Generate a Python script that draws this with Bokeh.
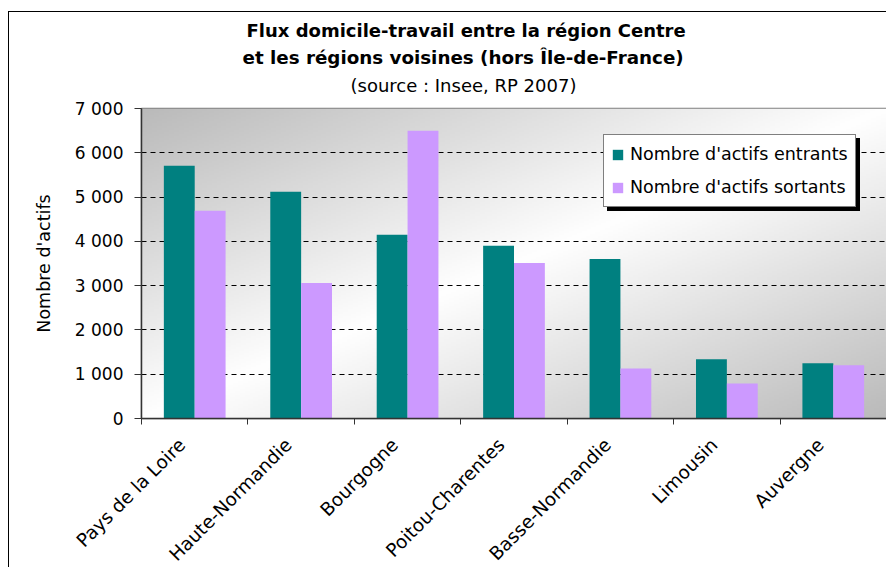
import numpy as np
from math import pi
from bokeh.plotting import figure
from bokeh.models import (ColumnDataSource, Range1d, LinearAxis,
                          FixedTicker, Legend, LegendItem, Title)
from bokeh.transform import dodge
from bokeh.embed import file_html
from bokeh.resources import INLINE

# ---- data ----
regions = ["Pays de la Loire", "Haute-Normandie", "Bourgogne", "Poitou-Charentes",
           "Basse-Normandie", "Limousin", "Auvergne"]
entrants = [5710, 5120, 4150, 3900, 3600, 1340, 1250]
sortants = [4690, 3060, 6500, 3510, 1130, 790, 1200]
y_ticks = [0, 1000, 2000, 3000, 4000, 5000, 6000, 7000]
y_tick_labels = ["0", "1 000", "2 000", "3 000", "4 000", "5 000", "6 000", "7 000"]
series_names = ["Nombre d'actifs entrants", "Nombre d'actifs sortants"]
title_lines = ["Flux domicile-travail entre la région Centre",
               "et les régions voisines (hors Île-de-France)"]
subtitle = "(source : Insee, RP 2007)"

FONT = "DejaVu Sans"
C_IN = "#008080"
C_OUT = "#CC99FF"

n = len(regions)
idx = list(range(n))
x_lo, x_hi = -0.5, n - 0.5
y_lo, y_hi = y_ticks[0], y_ticks[-1]

p = figure(frame_width=745, frame_height=310,
           x_range=Range1d(x_lo, x_hi), y_range=Range1d(y_lo, y_hi),
           output_backend="svg", toolbar_location=None, tools="",
           title=None, x_axis_location=None, y_axis_location="left",
           min_border_left=132, min_border_top=96, min_border_right=0, min_border_bottom=135)
p.margin = (11, 0, 0, 8)
p.styles = {"border-left": "1px solid black", "border-top": "1px solid black"}
p.background_fill_color = "white"
p.border_fill_color = "white"
p.outline_line_color = "#808080"
p.outline_line_width = 1.5

# ---- gradient background of the plot area ----
nx, ny = 300, 150
u = np.linspace(0, 1, nx)[None, :]
v = np.linspace(0, 1, ny)[:, None]
t = (u + (1 - v)) / 2.0
g = (255 - (255 - 186) * np.abs(2 * t - 1)).astype(np.uint8)
img = np.zeros((ny, nx), dtype=np.uint32)
view = img.view(dtype=np.uint8).reshape((ny, nx, 4))
view[..., 0] = g
view[..., 1] = g
view[..., 2] = g
view[..., 3] = 255
p.image_rgba(image=[img], x=x_lo, y=y_lo, dw=x_hi - x_lo, dh=y_hi - y_lo, level="image")

# ---- grid ----
p.xgrid.grid_line_color = None
p.ygrid.ticker = FixedTicker(ticks=y_ticks[1:-1])
p.ygrid.grid_line_color = "black"
p.ygrid.grid_line_dash = "5 4"
p.ygrid.grid_line_width = 1
p.ygrid.level = "underlay"

# ---- bars ----
src = ColumnDataSource(dict(idx=idx, region=regions, entrants=entrants, sortants=sortants))
r_in = p.vbar(x=dodge("idx", -0.145), top="entrants", width=0.29,
              source=src, fill_color=C_IN, line_color=None)
r_out = p.vbar(x=dodge("idx", 0.145), top="sortants", width=0.29,
               source=src, fill_color=C_OUT, line_color=None)

# ---- y axis ----
ya = p.yaxis[0]
ya.ticker = FixedTicker(ticks=y_ticks)
ya.major_label_overrides = dict(zip(y_ticks, y_tick_labels))
ya.major_label_text_font = FONT
ya.major_label_text_font_size = "17px"
ya.major_label_text_color = "black"
ya.major_tick_out = 7
ya.major_tick_in = 0
ya.minor_tick_line_color = None
ya.major_label_standoff = 11
ya.axis_line_color = "#333333"
ya.axis_line_width = 1.5
ya.major_tick_line_color = "#333333"
ya.axis_label = "Nombre d'actifs"
ya.axis_label_text_font = FONT
ya.axis_label_text_font_size = "17.5px"
ya.axis_label_text_font_style = "normal"
ya.axis_label_text_color = "black"
ya.axis_label_standoff = 18

# ---- x axes: boundary ticks, then category labels ----
bounds = [i - 0.5 for i in range(n + 1)]
xt = LinearAxis(ticker=FixedTicker(ticks=bounds),
                major_tick_out=6, major_tick_in=0, minor_tick_line_color=None,
                major_label_overrides={b: "" for b in bounds},
                major_label_text_font_size="0px", major_label_standoff=0,
                axis_line_color="#333333", axis_line_width=1.5, major_tick_line_color="#333333")
p.add_layout(xt, "below")
label_pos = [i - 0.12 for i in idx]   # rotated labels end a little left of the group centre
xc = LinearAxis(ticker=FixedTicker(ticks=label_pos),
                major_label_overrides=dict(zip(label_pos, regions)),
                major_tick_line_color=None, axis_line_color=None, minor_tick_line_color=None,
                major_label_orientation=pi / 4, major_label_text_font=FONT,
                major_label_text_font_size="18.5px", major_label_text_color="black",
                major_label_standoff=11)
p.add_layout(xc, "below")

# ---- titles (stacked from the frame upwards) ----
p.add_layout(Title(text=" ", text_font_size="1px", standoff=7), "above")   # spacer
p.add_layout(Title(text=subtitle, align="left", offset=209, text_font=FONT,
                   text_font_size="18px", text_font_style="normal", text_color="black",
                   standoff=5), "above")
p.add_layout(Title(text=title_lines[1], align="left", offset=101, text_font=FONT,
                   text_font_size="18.3px", text_font_style="bold", text_color="black",
                   standoff=5), "above")
p.add_layout(Title(text=title_lines[0], align="left", offset=105, text_font=FONT,
                   text_font_size="18px", text_font_style="bold", text_color="black",
                   standoff=4), "above")

# ---- legend with shadow ----
shadow = Legend(items=[LegendItem(label=" ", renderers=[r_in]),
                       LegendItem(label=" ", renderers=[r_out])],
                location=(466, 207), orientation="vertical",
                glyph_width=13, glyph_height=13, label_standoff=6, padding=7, spacing=9,
                label_height=24, label_width=218, label_text_font_size="17.5px",
                border_line_color="black", border_line_width=1,
                background_fill_color="black", background_fill_alpha=1.0)
legend = Legend(items=[LegendItem(label=series_names[0], renderers=[r_in]),
                       LegendItem(label=series_names[1], renderers=[r_out])],
                location=(462, 211), orientation="vertical",
                glyph_width=13, glyph_height=13, label_standoff=6, padding=7, spacing=9,
                label_height=24, label_width=218, label_text_font=FONT, label_text_font_size="17.5px",
                label_text_color="black", border_line_color="black", border_line_width=1,
                background_fill_color="white", background_fill_alpha=1.0)
p.add_layout(shadow, "center")
p.add_layout(legend, "center")

open("out.html", "w").write(file_html(p, INLINE))
